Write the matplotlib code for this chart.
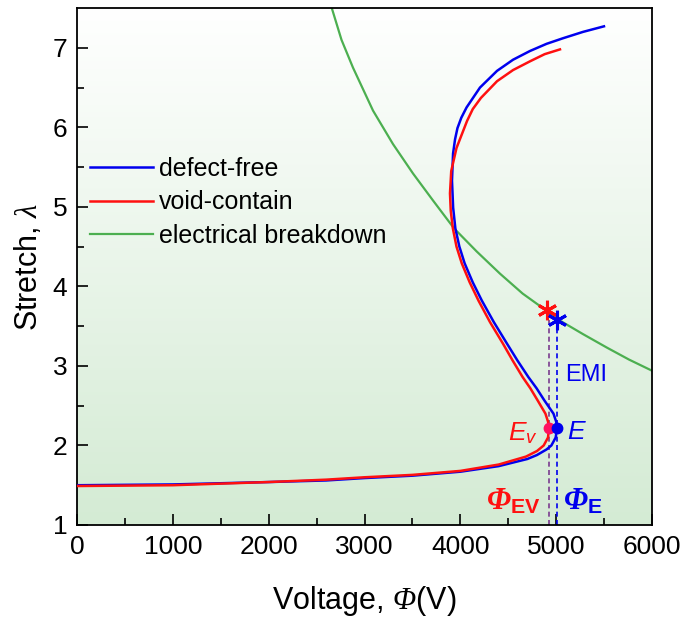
import numpy as np
import matplotlib
matplotlib.use("Agg")
import matplotlib.pyplot as plt
from matplotlib.colors import LinearSegmentedColormap

plt.rcParams['font.family'] = ['Liberation Sans', 'DejaVu Sans']
plt.rcParams['mathtext.fontset'] = 'custom'
plt.rcParams['mathtext.rm'] = 'Liberation Sans'
plt.rcParams['mathtext.it'] = 'Liberation Serif:italic'
plt.rcParams['mathtext.bf'] = 'Liberation Serif:bold:italic'
plt.rcParams['mathtext.sf'] = 'Liberation Sans:italic'
plt.rcParams['mathtext.tt'] = 'Liberation Sans:bold'
plt.rcParams['mathtext.cal'] = 'Liberation Serif:italic'

# defect-free curve (voltage, stretch) along the curve
phi_df = [0, 1000, 2000, 2600, 3000, 3500, 4000, 4400, 4700, 4800, 4900, 4950,
          4995, 5010, 5000, 4972, 4875, 4795, 4710, 4595, 4487, 4350, 4225,
          4130, 4045, 3990, 3948, 3925, 3913, 3924, 3945, 3970, 4010, 4065,
          4205, 4383, 4550, 4727, 4900, 5071, 5280, 5499]
lam_df = [1.50, 1.51, 1.54, 1.56, 1.59, 1.62, 1.67, 1.74, 1.83, 1.88, 1.95, 2.00,
          2.10, 2.22, 2.30, 2.40, 2.57, 2.72, 2.86, 3.07, 3.28, 3.55, 3.82,
          4.05, 4.29, 4.50, 4.73, 4.99, 5.33, 5.67, 5.85, 5.99, 6.12, 6.25,
          6.50, 6.71, 6.85, 6.96, 7.05, 7.12, 7.20, 7.27]

# void-contain curve
phi_vc = [0, 1000, 2000, 2600, 3000, 3500, 4000, 4400, 4685, 4800, 4870, 4915,
          4925, 4915, 4888, 4805, 4730, 4650, 4545, 4445, 4310, 4190, 4098,
          4015, 3960, 3922, 3900, 3892, 3905, 3960, 4070, 4130, 4215, 4383,
          4550, 4727, 4880, 5040]
lam_vc = [1.49, 1.50, 1.54, 1.57, 1.60, 1.63, 1.68, 1.76, 1.86, 1.93, 2.00, 2.10,
          2.22, 2.30, 2.40, 2.57, 2.72, 2.86, 3.07, 3.28, 3.55, 3.82, 4.05,
          4.29, 4.50, 4.73, 4.95, 5.17, 5.45, 5.74, 6.08, 6.23, 6.37, 6.58,
          6.72, 6.83, 6.92, 6.98]

# electrical breakdown curve
phi_eb = [2661, 2760, 2880, 3089, 3297, 3506, 3715, 3934, 4170, 4414, 4650,
          4904, 5040, 5280, 5530, 5760, 6000]
lam_eb = [7.49, 7.10, 6.75, 6.21, 5.79, 5.42, 5.08, 4.73, 4.44, 4.16, 3.91,
          3.69, 3.57, 3.40, 3.23, 3.08, 2.94]

# special points
phi_E, lam_E = 5010, 2.22
phi_Ev, lam_Ev = 4925, 2.22
phi_star_df, lam_star_df = 5009, 3.58
phi_star_vc, lam_star_vc = 4904, 3.70

fig = plt.figure(figsize=(6.84, 6.18), dpi=100)
ax = fig.add_axes([0.1126, 0.1505, 0.8406, 0.8365])

# gradient background
cmap = LinearSegmentedColormap.from_list('bg', ['#d4ebd4', '#ffffff'])
grad = np.linspace(0, 1, 256).reshape(-1, 1)
ax.imshow(grad, aspect='auto', cmap=cmap, origin='lower',
          extent=[0, 6000, 1, 7.5], zorder=0)

blue = '#0000ee'
red = '#ff1010'
green = '#4caf50'

ax.plot(phi_df, lam_df, color=blue, lw=1.8, label='defect-free', zorder=3,
        solid_joinstyle='round')
ax.plot(phi_vc, lam_vc, color=red, lw=1.8, label='void-contain', zorder=3,
        solid_joinstyle='round')
ax.plot(phi_eb, lam_eb, color=green, lw=1.6, label='electrical breakdown', zorder=2)

# dashed verticals
ax.plot([phi_Ev, phi_Ev], [1, lam_star_vc], color='#7a3b8f',
        lw=1.2, ls=(0, (3, 2)), zorder=2)
ax.plot([phi_star_df, phi_star_df], [1, lam_star_df], color=blue,
        lw=1.2, ls=(0, (3, 2)), zorder=2)

# stars
ax.plot([phi_star_vc], [lam_star_vc], marker=(6, 2, 0), ms=14, mew=2.2,
        color=red, ls='none', zorder=5)
ax.plot([phi_star_df], [lam_star_df], marker=(6, 2, 0), ms=14, mew=2.2,
        color=blue, ls='none', zorder=5)

# dots
ax.plot([phi_Ev], [lam_Ev], 'o', color='#ff1060', ms=7.5, zorder=5)
ax.plot([phi_E], [lam_E], 'o', color=blue, ms=7.5, zorder=5)

ax.text(5090, 2.88, 'EMI', color=blue, fontsize=17, va='center', ha='left')
ax.text(4810, 2.15, r'$\mathsf{E}_\mathsf{v}$', color=red, fontsize=19,
        va='center', ha='right')
ax.text(5113, 2.17, r'$\mathsf{E}$', color=blue, fontsize=19, va='center', ha='left')
ax.text(4840, 1.29, r'$\mathbf{Φ}_{\mathtt{EV}}$', color=red, fontsize=22,
        va='center', ha='right')
ax.text(5071, 1.29, r'$\mathbf{Φ}_{\mathtt{E}}$', color=blue, fontsize=22,
        va='center', ha='left')

ax.set_xlim(0, 6000)
ax.set_ylim(1, 7.5)
ax.set_xticks([0, 1000, 2000, 3000, 4000, 5000, 6000])
ax.set_xticks(np.arange(500, 6000, 1000), minor=True)
ax.set_yticks([1, 2, 3, 4, 5, 6, 7])
ax.set_yticks(np.arange(1.5, 7.5, 1.0), minor=True)
ax.tick_params(which='both', direction='in', top=False, right=False,
               labelsize=19, width=1.2)
ax.tick_params(which='major', length=8, pad=7)
ax.tick_params(which='minor', length=5)
for s in ax.spines.values():
    s.set_linewidth(1.3)

ax.set_xlabel(r'Voltage, $\mathcal{Φ}$(V)', fontsize=22, labelpad=18)
ax.set_ylabel(r'Stretch, $λ$', fontsize=22, labelpad=6)

leg = ax.legend(loc='upper left', bbox_to_anchor=(0.0226, 0.712), frameon=False,
                fontsize=18, handlelength=2.5, handletextpad=0.25,
                labelspacing=0.38, borderaxespad=0.0, borderpad=0.0)

fig.savefig('out.png', dpi=100)
